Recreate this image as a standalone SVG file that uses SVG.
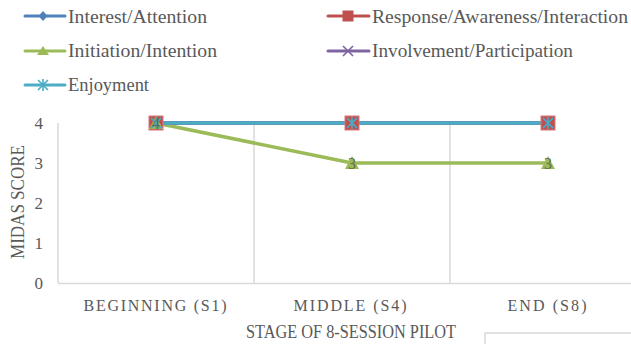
<svg xmlns="http://www.w3.org/2000/svg" width="631" height="344" viewBox="0 0 631 344">
<style>
.t{font-family:"Liberation Serif","DejaVu Serif",serif;fill:#595959}
.leg{font-size:19px}
.grid{stroke:#d9d9d9;stroke-width:1.5;fill:none}
.tick{font-size:17px;text-anchor:end}
.cat{font-size:16px;text-anchor:middle}
.ser{fill:none;stroke-width:3.5;stroke-linejoin:round;stroke-linecap:round}
.lab{font-size:16px;text-anchor:middle;fill:#5f6f4f}
</style>
<defs>
<g id="mDiamond"><path d="M0,-5 L4.5,0 L0,5 L-4.5,0Z" fill="#4f81bd"/></g>
<g id="mSquare"><rect x="-7" y="-7" width="14" height="14" fill="#c0504d" stroke="#d87a77" stroke-width="1"/></g>
<g id="mTri"><path d="M0,-7 L7,6 L-7,6Z" fill="#9bbb59"/></g>
<g id="mX"><path d="M-5,-5 L5,5 M5,-5 L-5,5" stroke="#8064a2" stroke-width="1.6" fill="none"/></g>
<g id="mStar"><path d="M-5,-5 L5,5 M5,-5 L-5,5 M0,-6 L0,6" stroke="#4bacc6" stroke-width="1.6" fill="none"/></g>
<g id="lSquare"><rect x="-5.5" y="-5.5" width="11" height="11" fill="#c0504d"/></g>
<g id="lTri"><path d="M0,-5 L6,4 L-6,4Z" fill="#9bbb59"/></g>
</defs>

<g id="legend">
  <g id="leg-interest">
    <line x1="25" y1="16" x2="65" y2="16" stroke="#4f81bd" stroke-width="3" stroke-linecap="round"/>
    <use href="#mDiamond" x="43" y="16"/>
    <text class="t leg" x="68" y="23" textLength="139" lengthAdjust="spacingAndGlyphs">Interest/Attention</text>
  </g>
  <g id="leg-response">
    <line x1="328" y1="16" x2="369" y2="16" stroke="#c0504d" stroke-width="3" stroke-linecap="round"/>
    <use href="#lSquare" x="348" y="16"/>
    <text class="t leg" x="372" y="23" textLength="256" lengthAdjust="spacingAndGlyphs">Response/Awareness/Interaction</text>
  </g>
  <g id="leg-initiation">
    <line x1="25" y1="51" x2="65" y2="51" stroke="#9bbb59" stroke-width="3" stroke-linecap="round"/>
    <use href="#lTri" x="43" y="51"/>
    <text class="t leg" x="68" y="57" textLength="149" lengthAdjust="spacingAndGlyphs">Initiation/Intention</text>
  </g>
  <g id="leg-involvement">
    <line x1="328" y1="51" x2="369" y2="51" stroke="#8064a2" stroke-width="3" stroke-linecap="round"/>
    <use href="#mX" x="348" y="51"/>
    <text class="t leg" x="372" y="57" textLength="201" lengthAdjust="spacingAndGlyphs">Involvement/Participation</text>
  </g>
  <g id="leg-enjoyment">
    <line x1="25" y1="85" x2="65" y2="85" stroke="#4bacc6" stroke-width="3" stroke-linecap="round"/>
    <use href="#mStar" x="43" y="85"/>
    <text class="t leg" x="68" y="91" textLength="81" lengthAdjust="spacingAndGlyphs">Enjoyment</text>
  </g>
</g>

<g id="axes">
  <line class="grid" x1="58" y1="123" x2="58" y2="283"/>
  <line class="grid" x1="254" y1="123" x2="254" y2="283"/>
  <line class="grid" x1="450" y1="123" x2="450" y2="283"/>
  <line class="grid" x1="58" y1="283.5" x2="631" y2="283.5"/>
  <text class="t tick" x="43" y="129">4</text>
  <text class="t tick" x="43" y="169">3</text>
  <text class="t tick" x="43" y="209">2</text>
  <text class="t tick" x="43" y="249">1</text>
  <text class="t tick" x="43" y="289">0</text>
  <text class="t" font-size="18" text-anchor="middle" transform="translate(24,202) rotate(-90)" textLength="114" lengthAdjust="spacingAndGlyphs">MIDAS SCORE</text>
  <text class="t cat" x="155" y="311" textLength="143" lengthAdjust="spacing">BEGINNING (S1)</text>
  <text class="t cat" x="350" y="311" textLength="113" lengthAdjust="spacing">MIDDLE (S4)</text>
  <text class="t cat" x="547" y="311" textLength="79" lengthAdjust="spacing">END (S8)</text>
  <text class="t" font-size="18" text-anchor="middle" x="351" y="338" textLength="210" lengthAdjust="spacingAndGlyphs">STAGE OF 8-SESSION PILOT</text>
  <rect x="485" y="333" width="160" height="30" fill="none" stroke="#d9d9d9" stroke-width="1.5"/>
</g>

<g id="connectors">
  <polyline class="ser" stroke="#4f81bd" stroke-width="3" points="156,123 352,123 548,123"/>
  <polyline class="ser" stroke="#c0504d" stroke-width="3" points="156,123 352,123 548,123"/>
  <polyline class="ser" stroke="#9bbb59" points="156,123 352,163 548,163"/>
  <polyline class="ser" stroke="#8064a2" stroke-width="3" points="156,123 352,123 548,123"/>
  <polyline class="ser" stroke="#4bacc6" stroke-width="4" points="156,123 352,123 548,123"/>
</g>

<g id="points">
  <g id="p-s1">
    <use href="#mDiamond" x="156" y="123"/>
    <use href="#mSquare" x="156" y="123"/>
    <use href="#mTri" x="156" y="123"/>
    <use href="#mX" x="156" y="123"/>
    <use href="#mStar" x="156" y="123"/>
    <text class="t lab" x="156" y="129">4</text>
  </g>
  <g id="p-s4">
    <use href="#mDiamond" x="352" y="123"/>
    <use href="#mSquare" x="352" y="123"/>
    <use href="#mX" x="352" y="123"/>
    <use href="#mStar" x="352" y="123"/>
    <use href="#mTri" x="352" y="163"/>
    <text class="t lab" x="352" y="169">3</text>
  </g>
  <g id="p-s8">
    <use href="#mDiamond" x="548" y="123"/>
    <use href="#mSquare" x="548" y="123"/>
    <use href="#mX" x="548" y="123"/>
    <use href="#mStar" x="548" y="123"/>
    <use href="#mTri" x="548" y="163"/>
    <text class="t lab" x="548" y="169">3</text>
  </g>
</g>
</svg>
